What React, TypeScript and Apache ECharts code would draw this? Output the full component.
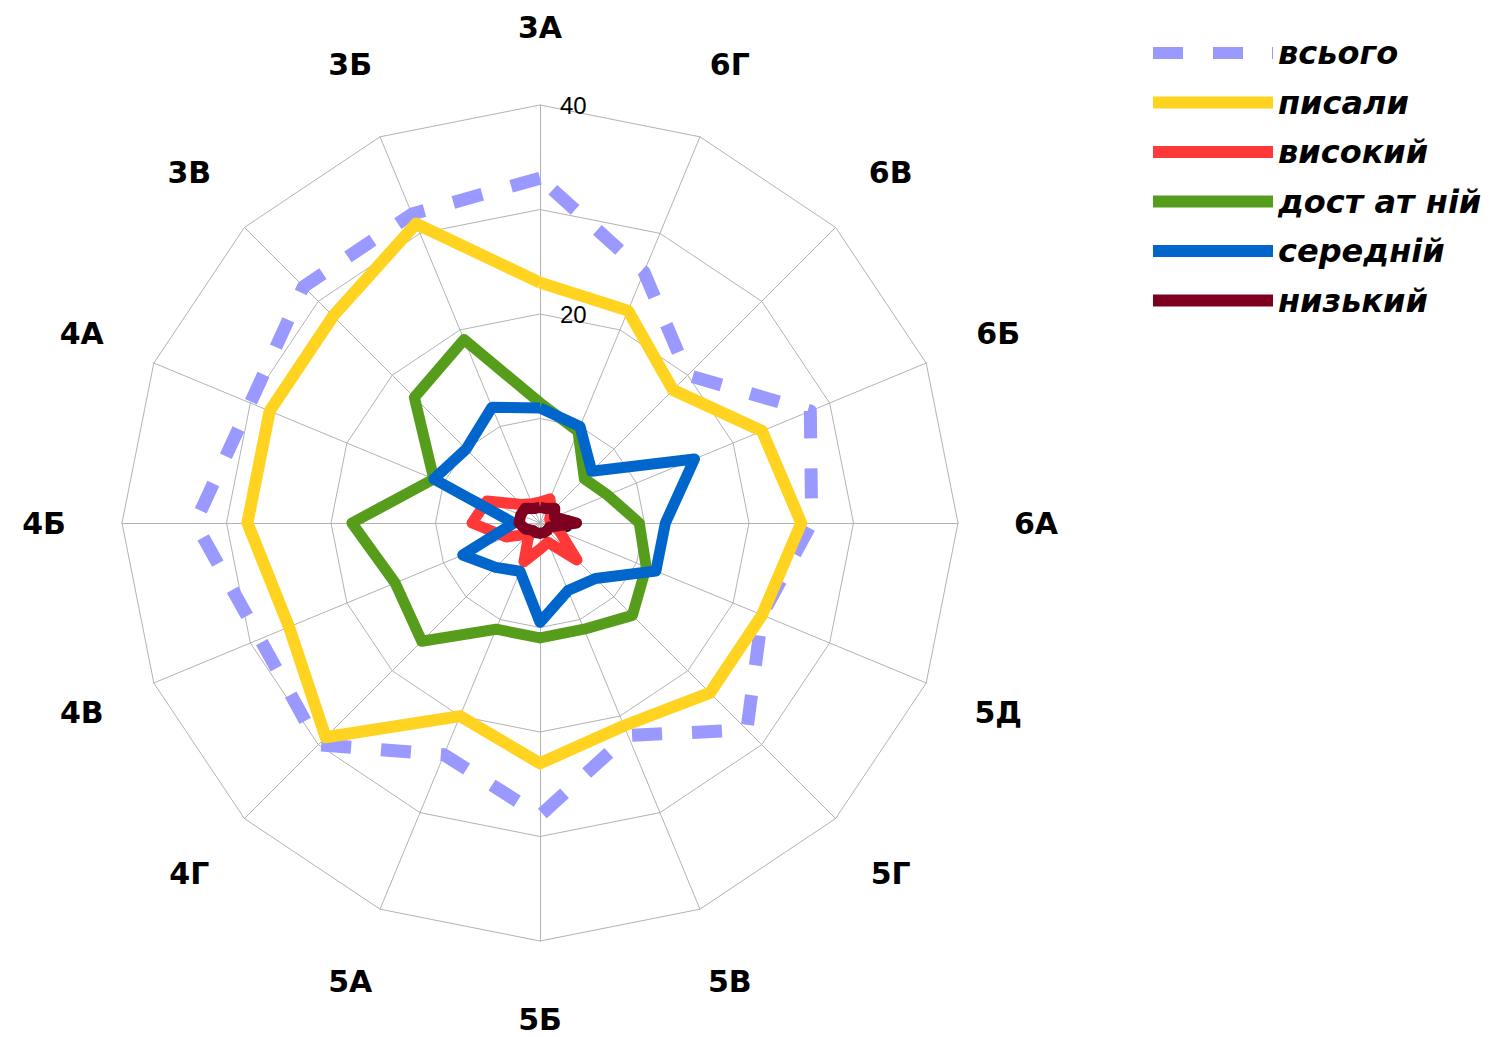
import React, { useEffect, useRef } from "react";
import * as echarts from "echarts";

// Categories (indicators), in ECharts radar order (counter-clockwise from top)
const CATEGORIES = ["3А", "3Б", "3В", "4А", "4Б", "4В", "4Г", "5А", "5Б", "5В", "5Г", "5Д", "6А", "6Б", "6В", "6Г"];

const SERIES_NAMES = ["всього", "писали", "високий", "дост ат ній", "середній", "низький"];
const SERIES_COLORS = ["#9999FF", "#FFD320", "#FF3838", "#579D1C", "#0066CC", "#7E0021"];

const VSOGO = [33, 32, 32, 30, 33, 29, 30, 24, 28, 22, 28, 23, 26, 28, 20, 26];
const PYSALY = [23, 31, 28, 28, 28, 26, 29, 20, 23, 21, 23, 23, 25, 23, 18, 22];
const VYSOKYI = [2, 2, 2.5, 5.5, 6.5, 3.5, 1.5, 4, 2.5, 2, 5, 2, 1, 1, 1.5, 2.5];
const DOSTATNII = [11.5, 19, 17, 11, 18, 15, 16, 11, 11, 11, 12.5, 11, 9.5, 7, 6, 9.5];
const SEREDNII = [11, 12, 10, 11, 2.5, 8, 6, 5, 9.5, 7, 7.5, 12, 12, 16, 7, 10];
const NYZKYI = [1.5, 1.5, 2, 2, 2, 1.5, 1, 1, 1, 1, 1, 1, 3.5, 1.5, 2, 1.5];

const SERIES_VALUES = [VSOGO, PYSALY, VYSOKYI, DOSTATNII, SEREDNII, NYZKYI];

const AXIS_MIN = 0;
const AXIS_MAX = 40;
const SPLIT_NUMBER = 4;
const SHOWN_TICKS = [0, 20, 40];

const DASH_ICON = "path://M0,0H30V12H0Z M60,0H90V12H60Z M119,0H120V12H119Z";

export default function App() {
  const ref = useRef<HTMLDivElement>(null);

  useEffect(() => {
    if (!ref.current) return;
    const chart = echarts.init(ref.current, undefined, { renderer: "svg" });

    const indicator = CATEGORIES.map((name, i) => {
      const ind: any = { name, min: AXIS_MIN, max: AXIS_MAX };
      if (i === 0) ind.axisLabel = { show: true };
      return ind;
    });

    const series = SERIES_NAMES.map((name, i) => ({
      type: "radar",
      name,
      symbol: "none",
      color: SERIES_COLORS[i],
      lineStyle: {
        color: SERIES_COLORS[i],
        width: i === 0 ? 13 : i === 1 ? 12 : 11,
        type: i === 0 ? [30, 30] : "solid",
        join: "round",
      },
      data: [{ name, value: SERIES_VALUES[i] }],
    }));

    chart.setOption({
      animation: false,
      backgroundColor: "#ffffff",
      radar: {
        center: [540, 523],
        radius: 418,
        startAngle: 90,
        min: AXIS_MIN,
        max: AXIS_MAX,
        splitNumber: SPLIT_NUMBER,
        shape: "polygon",
        indicator,
        axisName: {
          color: "#000",
          fontSize: 30,
          lineHeight: 30,
          fontWeight: "bold",
          fontFamily: "DejaVu Sans",
          align: "center",
          verticalAlign: "middle",
        },
        axisNameGap: 78,
        splitLine: { lineStyle: { color: "#b3b3b3", width: 1 } },
        splitArea: { show: false },
        axisLine: { lineStyle: { color: "#b3b3b3", width: 1 } },
        axisTick: { show: false },
        axisLabel: {
          show: false,
          color: "#000",
          fontSize: 24,
          fontFamily: "Liberation Sans",
          margin: -20,
          align: "left",
          verticalAlign: "middle",
          formatter: (v: number) => (SHOWN_TICKS.indexOf(v) >= 0 ? String(v) : ""),
        },
      },
      legend: {
        orient: "vertical",
        left: 1148,
        top: 32,
        itemWidth: 120,
        itemHeight: 12,
        itemGap: 17.5,
        itemStyle: { borderWidth: 0 },
        textStyle: {
          fontSize: 32,
          lineHeight: 30,
          fontWeight: "bold",
          fontStyle: "italic",
          fontFamily: "DejaVu Sans",
          color: "#000",
        },
        data: SERIES_NAMES.map((name, i) => ({
          name,
          icon: i === 0 ? DASH_ICON : "rect",
          itemStyle: { color: SERIES_COLORS[i], borderWidth: 0 },
        })),
      },
      series,
    });

    return () => chart.dispose();
  }, []);

  return (
    <div
      ref={ref}
      style={{ position: "absolute", left: 0, top: 0, width: 1506, height: 1037 }}
    />
  );
}
